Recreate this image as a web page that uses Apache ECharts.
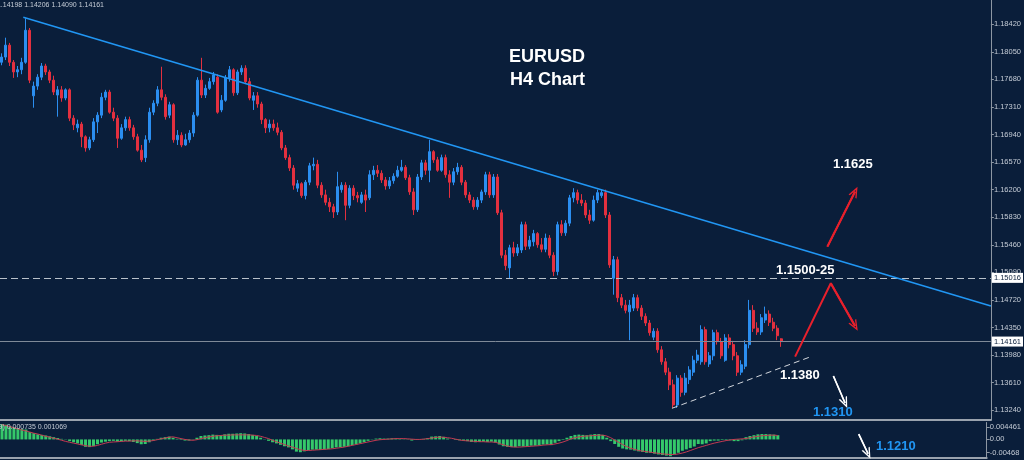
<!DOCTYPE html>
<html><head><meta charset="utf-8">
<script src="https://cdn.jsdelivr.net/npm/echarts@6/dist/echarts.min.js"></script>
<style>html,body{margin:0;padding:0;background:#0a1e3a;}#c{width:1024px;height:460px;}</style>
</head><body><div id="c"></div>
<script>
// ---------- DATA ----------
// candles: [open, close, low, high]
const candlesA = [
[1.1791,1.1798,1.1787,1.1803],[1.1798,1.1814,1.1794,1.1824],[1.1814,1.1791,1.1786,1.1817],[1.1791,1.1778,1.1770,1.1794],
[1.1778,1.1781,1.1771,1.1786],[1.1781,1.1791,1.1775,1.1797],[1.1791,1.1834,1.1789,1.1850],[1.1834,1.1767,1.1763,1.1837],
[1.1746,1.1759,1.1730,1.1765],[1.1759,1.1771,1.1754,1.1775],[1.1771,1.1786,1.1767,1.1790],[1.1786,1.1778,1.1774,1.1789],
[1.1778,1.1767,1.1763,1.1781],[1.1767,1.1751,1.1747,1.1773],[1.1747,1.1754,1.1718,1.1759],[1.1754,1.1743,1.1738,1.1759],
[1.1743,1.1754,1.1740,1.1756],[1.1754,1.1716,1.1712,1.1756],[1.1716,1.1707,1.1700,1.1720],[1.1703,1.1708,1.1697,1.1714],
[1.1708,1.1691,1.1677,1.1711],[1.1691,1.1676,1.1671,1.1693],[1.1676,1.1687,1.1673,1.1691],[1.1687,1.1711,1.1684,1.1716],
[1.1711,1.1720,1.1696,1.1724],[1.1720,1.1744,1.1716,1.1750],[1.1744,1.1751,1.1740,1.1754],[1.1751,1.1724,1.1722,1.1754],
[1.1724,1.1716,1.1712,1.1730],[1.1716,1.1689,1.1676,1.1720],[1.1689,1.1703,1.1687,1.1708],[1.1703,1.1714,1.1699,1.1718],
[1.1714,1.1703,1.1699,1.1718],[1.1703,1.1691,1.1687,1.1707],[1.1691,1.1673,1.1671,1.1695],[1.1673,1.1660,1.1657,1.1680],
[1.1663,1.1687,1.1657,1.1693],[1.1687,1.1724,1.1683,1.1730],[1.1724,1.1736,1.1720,1.1740],[1.1736,1.1754,1.1732,1.1759],
[1.1754,1.1744,1.1740,1.1785],[1.1744,1.1718,1.1714,1.1748],[1.1720,1.1734,1.1716,1.1738],[1.1734,1.1687,1.1683,1.1736],
[1.1687,1.1693,1.1680,1.1700],[1.1693,1.1680,1.1677,1.1697],[1.1680,1.1687,1.1679,1.1695],[1.1687,1.1696,1.1683,1.1700],
[1.1696,1.1720,1.1691,1.1724],[1.1720,1.1767,1.1718,1.1771],[1.1767,1.1747,1.1743,1.1797],[1.1747,1.1756,1.1743,1.1761],
[1.1756,1.1765,1.1754,1.1770],[1.1765,1.1774,1.1761,1.1778],[1.1771,1.1724,1.1722,1.1775],[1.1727,1.1740,1.1724,1.1747],
[1.1740,1.1770,1.1738,1.1774],[1.1770,1.1781,1.1765,1.1786],[1.1781,1.1750,1.1746,1.1783],[1.1750,1.1778,1.1747,1.1781],
[1.1778,1.1783,1.1774,1.1787],[1.1783,1.1765,1.1762,1.1787],[1.1765,1.1743,1.1740,1.1770],[1.1740,1.1746,1.1727,1.1751],
[1.1746,1.1735,1.1730,1.1751],[1.1735,1.1714,1.1708,1.1738]
];
const candlesB = [
[1.1714,1.1703,1.1696,1.1716],[1.1703,1.1708,1.1697,1.1714],[1.1708,1.1703,1.1699,1.1714],[1.1703,1.1697,1.1693,1.1710],
[1.1697,1.1676,1.1673,1.1700],[1.1676,1.1663,1.1660,1.1680],[1.1663,1.1649,1.1645,1.1667],[1.1649,1.1626,1.1620,1.1653],
[1.1622,1.1628,1.1617,1.1633],[1.1628,1.1612,1.1609,1.1630],[1.1612,1.1630,1.1607,1.1633],[1.1630,1.1652,1.1626,1.1656],
[1.1652,1.1654,1.1646,1.1663],[1.1654,1.1626,1.1622,1.1660],[1.1626,1.1613,1.1609,1.1630],[1.1613,1.1603,1.1599,1.1620],
[1.1603,1.1597,1.1590,1.1609],[1.1597,1.1590,1.1582,1.1601],[1.1590,1.1624,1.1586,1.1644],[1.1620,1.1626,1.1616,1.1630],
[1.1626,1.1599,1.1579,1.1630],[1.1599,1.1622,1.1595,1.1626],[1.1622,1.1612,1.1606,1.1626],[1.1612,1.1609,1.1603,1.1617],
[1.1603,1.1613,1.1601,1.1617],[1.1613,1.1606,1.1590,1.1620],[1.1609,1.1640,1.1606,1.1646],[1.1640,1.1646,1.1633,1.1652],
[1.1646,1.1642,1.1637,1.1653],[1.1642,1.1633,1.1629,1.1646],[1.1633,1.1625,1.1620,1.1637],[1.1625,1.1632,1.1621,1.1637],
[1.1632,1.1638,1.1628,1.1642],[1.1638,1.1646,1.1636,1.1652],[1.1646,1.1650,1.1644,1.1660],[1.1650,1.1636,1.1633,1.1653],
[1.1636,1.1617,1.1613,1.1640],[1.1617,1.1593,1.1586,1.1622],[1.1593,1.1637,1.1590,1.1641],[1.1637,1.1656,1.1633,1.1660],
[1.1656,1.1646,1.1640,1.1660],[1.1646,1.1671,1.1630,1.1687],[1.1671,1.1660,1.1656,1.1673],[1.1660,1.1646,1.1644,1.1664],
[1.1646,1.1663,1.1644,1.1667],[1.1663,1.1640,1.1636,1.1667],[1.1640,1.1630,1.1609,1.1646],[1.1630,1.1644,1.1626,1.1649],
[1.1644,1.1650,1.1640,1.1656],[1.1650,1.1630,1.1626,1.1653],[1.1630,1.1613,1.1609,1.1633],[1.1613,1.1606,1.1602,1.1617],
[1.1606,1.1597,1.1593,1.1610],[1.1597,1.1606,1.1593,1.1610],[1.1606,1.1617,1.1602,1.1620],[1.1617,1.1640,1.1613,1.1644],
[1.1640,1.1613,1.1609,1.1644],[1.1613,1.1637,1.1609,1.1641],[1.1637,1.1589,1.1586,1.1641],[1.1589,1.1532,1.1528,1.1593],
[1.1532,1.1518,1.1512,1.1539],[1.1515,1.1542,1.1501,1.1546],[1.1542,1.1535,1.1530,1.1550],[1.1535,1.1542,1.1531,1.1547],
[1.1539,1.1573,1.1535,1.1577]
];
const candlesC = [
[1.1573,1.1544,1.1539,1.1577],[1.1544,1.1552,1.1540,1.1558],[1.1550,1.1561,1.1544,1.1566],[1.1561,1.1546,1.1542,1.1563],
[1.1546,1.1540,1.1536,1.1555],[1.1540,1.1555,1.1536,1.1561],[1.1555,1.1532,1.1528,1.1559],[1.1532,1.1510,1.1504,1.1536],
[1.1510,1.1573,1.1505,1.1577],[1.1573,1.1562,1.1558,1.1579],[1.1562,1.1575,1.1558,1.1579],[1.1575,1.1609,1.1571,1.1613],
[1.1609,1.1616,1.1603,1.1622],[1.1616,1.1606,1.1601,1.1620],[1.1606,1.1602,1.1598,1.1614],[1.1602,1.1586,1.1582,1.1606],
[1.1586,1.1579,1.1574,1.1593],[1.1579,1.1606,1.1577,1.1612],[1.1606,1.1616,1.1602,1.1620],[1.1612,1.1616,1.1609,1.1620],
[1.1616,1.1586,1.1582,1.1620],[1.1586,1.1519,1.1515,1.1590],[1.1501,1.1526,1.1479,1.1531],[1.1526,1.1475,1.1469,1.1530],
[1.1475,1.1465,1.1461,1.1480],[1.1465,1.1458,1.1454,1.1472],[1.1456,1.1465,1.1418,1.1472],[1.1461,1.1475,1.1457,1.1480],
[1.1475,1.1461,1.1457,1.1479],[1.1461,1.1450,1.1445,1.1465],[1.1450,1.1441,1.1437,1.1454],[1.1441,1.1428,1.1424,1.1445],
[1.1422,1.1430,1.1418,1.1434],[1.1430,1.1405,1.1401,1.1434],[1.1405,1.1389,1.1385,1.1410],[1.1389,1.1375,1.1371,1.1394],
[1.1375,1.1358,1.1351,1.1381],[1.1358,1.1331,1.1327,1.1365],[1.1331,1.1367,1.1327,1.1371],[1.1367,1.1348,1.1342,1.1371],
[1.1348,1.1367,1.1344,1.1374],[1.1365,1.1378,1.1359,1.1383],[1.1375,1.1391,1.1370,1.1397],[1.1391,1.1398,1.1387,1.1405],
[1.1389,1.1432,1.1385,1.1438],[1.1432,1.1389,1.1385,1.1436],[1.1386,1.1397,1.1382,1.1402],[1.1397,1.1428,1.1391,1.1432],
[1.1428,1.1416,1.1412,1.1432],[1.1416,1.1397,1.1393,1.1421],[1.1391,1.1421,1.1389,1.1426],[1.1421,1.1412,1.1407,1.1426],
[1.1412,1.1397,1.1391,1.1417],[1.1397,1.1375,1.1370,1.1402],[1.1375,1.1385,1.1371,1.1391],[1.1383,1.1412,1.1379,1.1418],
[1.1412,1.1458,1.1407,1.1472],[1.1458,1.1434,1.1429,1.1465],[1.1434,1.1429,1.1425,1.1442],[1.1429,1.1448,1.1425,1.1453],
[1.1445,1.1453,1.1441,1.1463],[1.1453,1.1442,1.1437,1.1458],[1.1442,1.1434,1.1430,1.1448],[1.1434,1.1424,1.1418,1.1438],
[1.14198,1.14161,1.14090,1.14206]
];
const macdHist = [
0.0054,0.0052,0.0046,0.0043,0.0040,0.0037,0.0035,0.0026,0.0022,0.0018,
0.0016,0.0014,0.0011,0.0008,0.0005,0.0002,-0.0001,-0.0006,-0.0010,-0.0014,
-0.0020,-0.0026,-0.0027,-0.0023,-0.0017,-0.0011,-0.0008,-0.0006,-0.0005,-0.0008,
-0.0007,-0.0005,-0.0006,-0.0009,-0.0013,-0.0017,-0.0016,-0.0010,-0.0004,0.0002,
0.0006,0.0008,0.0010,0.0006,0.0002,-0.0002,-0.0004,-0.0004,-0.0001,0.0006,
0.0012,0.0014,0.0015,0.0017,0.0016,0.0015,0.0018,0.0020,0.0020,0.0021,
0.0022,0.0021,0.0019,0.0016,0.0012,0.0006,0.0001,-0.0005,-0.0010,-0.0014,
-0.0019,-0.0024,-0.0028,-0.0035,-0.0043,-0.0045,-0.0042,-0.0038,-0.0036,-0.0036,
-0.0037,-0.0036,-0.0034,-0.0031,-0.0028,-0.0027,-0.0026,-0.0024,-0.0020,-0.0017,
-0.0014,-0.0010,-0.0005,0.0001,0.0003,0.0004,0.0003,0.0003,0.0004,0.0004,
0.0002,0.0001,-0.0001,-0.0004,-0.0002,0.0001,0.0002,0.0005,0.0010,0.0011,
0.0012,0.0009,0.0003,0.0000,-0.0002,-0.0003,-0.0005,-0.0006,-0.0009,-0.0010,
-0.0009,-0.0008,-0.0009,-0.0008,-0.0011,-0.0018,-0.0024,-0.0026,-0.0027,-0.0027,
-0.0024,-0.0025,-0.0024,-0.0022,-0.0022,-0.0021,-0.0018,-0.0018,-0.0020,-0.0012,
-0.0006,-0.0002,0.0006,0.0012,0.0016,0.0017,0.0016,0.0015,0.0017,0.0019,
0.0019,0.0016,0.0006,-0.0006,-0.0016,-0.0026,-0.0032,-0.0035,-0.0036,-0.0039,
-0.0042,-0.0044,-0.0047,-0.0047,-0.0050,-0.0053,-0.0055,-0.0057,-0.0059,-0.0052,
-0.0047,-0.0040,-0.0035,-0.0030,-0.0025,-0.0016,-0.0017,-0.0014,-0.0006,-0.0004,
-0.0004,-0.0002,-0.0002,-0.0003,-0.0006,-0.0006,-0.0003,0.0008,0.0012,0.0015,
0.0018,0.0019,0.0019,0.0018,0.0017,0.0015
];
const macdSignal = [
0.0052,0.0049,0.0045,0.0041,0.0037,0.0033,0.0030,0.0026,0.0022,0.0019,
0.0015,0.0011,0.0008,0.0004,0.0001,-0.0003,-0.0007,-0.0010,-0.0013,-0.0016,
-0.0019,-0.0022,-0.0024,-0.0024,-0.0021,-0.0017,-0.0013,-0.0010,-0.0009,-0.0008,
-0.0007,-0.0006,-0.0006,-0.0005,-0.0005,-0.0006,-0.0007,-0.0006,-0.0004,-0.0001,
0.0002,0.0005,0.0008,0.0009,0.0006,0.0003,0.0000,-0.0002,-0.0003,-0.0001,
0.0003,0.0006,0.0009,0.0011,0.0013,0.0014,0.0015,0.0015,0.0016,0.0016,
0.0016,0.0016,0.0016,0.0015,0.0014,0.0011,0.0007,0.0003,-0.0003,-0.0008,
-0.0013,-0.0018,-0.0023,-0.0027,-0.0032,-0.0036,-0.0039,-0.0039,-0.0038,-0.0037,
-0.0036,-0.0035,-0.0034,-0.0033,-0.0031,-0.0029,-0.0027,-0.0024,-0.0021,-0.0018,
-0.0015,-0.0012,-0.0009,-0.0006,-0.0003,-0.0001,0.0000,0.0001,0.0002,0.0003,
0.0003,0.0003,0.0002,0.0001,0.0000,0.0000,0.0001,0.0003,0.0005,0.0007,
0.0008,0.0008,0.0006,0.0004,0.0001,-0.0002,-0.0004,-0.0005,-0.0006,-0.0007,
-0.0008,-0.0008,-0.0009,-0.0009,-0.0010,-0.0014,-0.0019,-0.0023,-0.0026,-0.0027,
-0.0027,-0.0026,-0.0025,-0.0024,-0.0023,-0.0022,-0.0020,-0.0019,-0.0018,-0.0016,
-0.0013,-0.0009,-0.0004,0.0002,0.0006,0.0009,0.0011,0.0012,0.0013,0.0014,
0.0015,0.0015,0.0012,0.0006,-0.0002,-0.0010,-0.0018,-0.0025,-0.0031,-0.0035,
-0.0039,-0.0041,-0.0043,-0.0045,-0.0047,-0.0049,-0.0051,-0.0052,-0.0053,-0.0053,
-0.0051,-0.0048,-0.0044,-0.0039,-0.0034,-0.0029,-0.0025,-0.0021,-0.0017,-0.0013,
-0.0010,-0.0007,-0.0004,-0.0002,0.0000,0.0001,0.0002,0.0003,0.0006,0.0009,
0.0011,0.0013,0.0014,0.0015,0.0015,0.0014
];
const priceTicks = [1.13240,1.13610,1.13980,1.14350,1.14720,1.15090,1.15460,1.15830,1.16200,1.16570,1.16940,1.17310,1.17680,1.18050,1.18420];
const macdTicks = [0.004461, 0, -0.00468];
const macdTickLabels = ['0.004461', '0.00', '-0.00468'];
const levelDashed = 1.15016;
const levelSolid = 1.14161;
// drawings: [bar index, price]
const trendLine = [[5.33, 1.18514], [247.5, 1.14638]];
const supportLine = [[167.68, 1.13265], [202.43, 1.13958]];
const upArrow = [[206.58, 1.15435], [213.5, 1.16173]];
const peakArrow = [[198.5, 1.13958], [207.43, 1.14943], [213.5, 1.14370]];
const downArrow = [[208.08, 1.13699], [211.0, 1.13337]];
const macdArrow = [[215.33, 0.00186], [217.68, -0.00503]];
const headerText = '1.14198 1.14206 1.14090 1.14161';
const macdText = 'MACD(12,26,9) 0.000735 0.001069';

// ---------- CHART ----------
const candles = candlesA.concat(candlesB, candlesC);
const SLOTS = 248;
const slots = Array.from({length: SLOTS}, (_, i) => String(i));
const FONT = '"Liberation Sans", Arial, sans-serif';
const CHEVRON = 'path://M0,10 L5,0 L10,10 L8.4,10 L5,3.2 L1.6,10 Z';
const AX = '#8d97a3', LBL = '#c5ccd6';

function arrowSeries(points, color, width, xi, yi) {
  return {
    type: 'line', xAxisIndex: xi, yAxisIndex: yi, data: points, symbol: 'none', silent: true, z: 6,
    lineStyle: {color: color, width: width},
    markLine: {
      silent: true, animation: false, symbol: ['none', CHEVRON], symbolSize: [9, 11], precision: 6,
      label: {show: false}, lineStyle: {color: color, width: width, type: 'solid'},
      data: [[{coord: points[points.length - 2]}, {coord: points[points.length - 1]}]]
    }
  };
}

function lvlLabel(v) {
  return {show: true, position: 'end', distance: 1, formatter: () => v.toFixed(5),
    backgroundColor: '#ffffff', color: '#0a1e3a', fontSize: 7.5, fontFamily: FONT, padding: [1, 2, 1, 2]};
}

const option = {
  backgroundColor: '#0a1e3a',
  animation: false,
  grid: [
    {left: 0, right: 32, top: 0, bottom: 40},
    {left: 0, right: 32, top: 422.5, bottom: 2.5}
  ],
  xAxis: [
    {type: 'category', gridIndex: 0, data: slots, boundaryGap: true,
     axisLine: {show: true, onZero: false, lineStyle: {color: '#9aa3ae', width: 2}},
     axisTick: {show: false}, axisLabel: {show: false}, splitLine: {show: false}},
    {type: 'value', gridIndex: 0, min: -0.5, max: 247.5, show: false, axisLine: {onZero: false}},
    {type: 'category', gridIndex: 1, data: slots, boundaryGap: true,
     axisLine: {show: true, onZero: false, lineStyle: {color: '#9aa3ae', width: 2}},
     axisTick: {show: false}, axisLabel: {show: false}, splitLine: {show: false}},
    {type: 'value', gridIndex: 1, min: -0.5, max: 247.5, show: false, axisLine: {onZero: false}}
  ],
  yAxis: [
    {type: 'value', gridIndex: 0, position: 'right', min: 1.13108, max: 1.18746,
     axisLine: {show: true, onZero: false, lineStyle: {color: AX}},
     axisTick: {show: true, length: 3, lineStyle: {color: AX}, customValues: priceTicks},
     axisLabel: {color: LBL, fontSize: 7.5, fontFamily: FONT, margin: 3, customValues: priceTicks,
       formatter: v => Number(v).toFixed(5)},
     splitLine: {show: false}},
    {type: 'value', gridIndex: 1, position: 'right', min: -0.00636, max: 0.00596,
     axisLine: {show: true, onZero: false, lineStyle: {color: AX}},
     axisTick: {show: true, length: 3, lineStyle: {color: AX}, customValues: macdTicks},
     axisLabel: {color: LBL, fontSize: 7.5, fontFamily: FONT, margin: 3, customValues: macdTicks,
       formatter: v => { let k = 0, d = 1; macdTicks.forEach((t, i) => { if (Math.abs(t - v) < d) { d = Math.abs(t - v); k = i; } }); return macdTickLabels[k]; }},
     splitLine: {show: false}}
  ],
  series: [
    {type: 'candlestick', xAxisIndex: 0, yAxisIndex: 0, data: candles, barWidth: 2.5, silent: true,
     itemStyle: {color: '#2b8ef0', color0: '#e3303f', borderColor: '#2b8ef0', borderColor0: '#e3303f', borderWidth: 1},
     markLine: {silent: true, animation: false, symbol: 'none', precision: 5,
       data: [
         {yAxis: levelDashed, lineStyle: {type: [7, 4], color: '#b9c1ca', width: 1.2}, label: lvlLabel(levelDashed)},
         {yAxis: levelSolid, lineStyle: {type: 'solid', color: '#7f8a98', width: 1}, label: lvlLabel(levelSolid)}
       ]}},
    {type: 'line', xAxisIndex: 1, yAxisIndex: 0, data: trendLine, symbol: 'none', silent: true, z: 5,
     lineStyle: {color: '#2196f3', width: 1.6}},
    {type: 'line', xAxisIndex: 1, yAxisIndex: 0, data: supportLine, symbol: 'none', silent: true, z: 5,
     lineStyle: {color: '#d4d8de', width: 1, type: [6, 4]}},
    arrowSeries(upArrow, '#e8202c', 2, 1, 0),
    arrowSeries(peakArrow, '#e8202c', 2, 1, 0),
    arrowSeries(downArrow, '#ffffff', 1.5, 1, 0),
    {type: 'bar', xAxisIndex: 2, yAxisIndex: 1, data: macdHist, barWidth: 3, silent: true,
     itemStyle: {color: '#35c86a'}},
    {type: 'line', xAxisIndex: 2, yAxisIndex: 1, data: macdSignal, symbol: 'none', silent: true,
     lineStyle: {color: '#c33a52', width: 1}},
    arrowSeries(macdArrow, '#ffffff', 1.5, 3, 1)
  ],
  graphic: [
    {type: 'text', x: 104, y: 5.5, z: 10, style: {text: headerText, fill: LBL, font: '7px ' + FONT, align: 'right', verticalAlign: 'middle'}},
    {type: 'text', x: 67, y: 427.5, z: 10, style: {text: macdText, fill: LBL, font: '7px ' + FONT, align: 'right', verticalAlign: 'middle'}},
    {type: 'text', x: 509, y: 57, z: 10, style: {text: 'EURUSD', fill: '#ffffff', font: 'bold 18px ' + FONT, align: 'left', verticalAlign: 'middle'}},
    {type: 'text', x: 510, y: 80, z: 10, style: {text: 'H4 Chart', fill: '#ffffff', font: 'bold 18px ' + FONT, align: 'left', verticalAlign: 'middle'}},
    {type: 'text', x: 833, y: 164, z: 10, style: {text: '1.1625', fill: '#ffffff', font: 'bold 13px ' + FONT, align: 'left', verticalAlign: 'middle'}},
    {type: 'text', x: 776, y: 270, z: 10, style: {text: '1.1500-25', fill: '#ffffff', font: 'bold 13px ' + FONT, align: 'left', verticalAlign: 'middle'}},
    {type: 'text', x: 780, y: 375, z: 10, style: {text: '1.1380', fill: '#ffffff', font: 'bold 13px ' + FONT, align: 'left', verticalAlign: 'middle'}},
    {type: 'text', x: 813, y: 412, z: 10, style: {text: '1.1310', fill: '#2196f3', font: 'bold 13px ' + FONT, align: 'left', verticalAlign: 'middle'}},
    {type: 'text', x: 876, y: 446, z: 10, style: {text: '1.1210', fill: '#2196f3', font: 'bold 13px ' + FONT, align: 'left', verticalAlign: 'middle'}}
  ]
};
const chart = echarts.init(document.getElementById('c'), null, {renderer: 'canvas'});
chart.setOption(option);
</script></body></html>
